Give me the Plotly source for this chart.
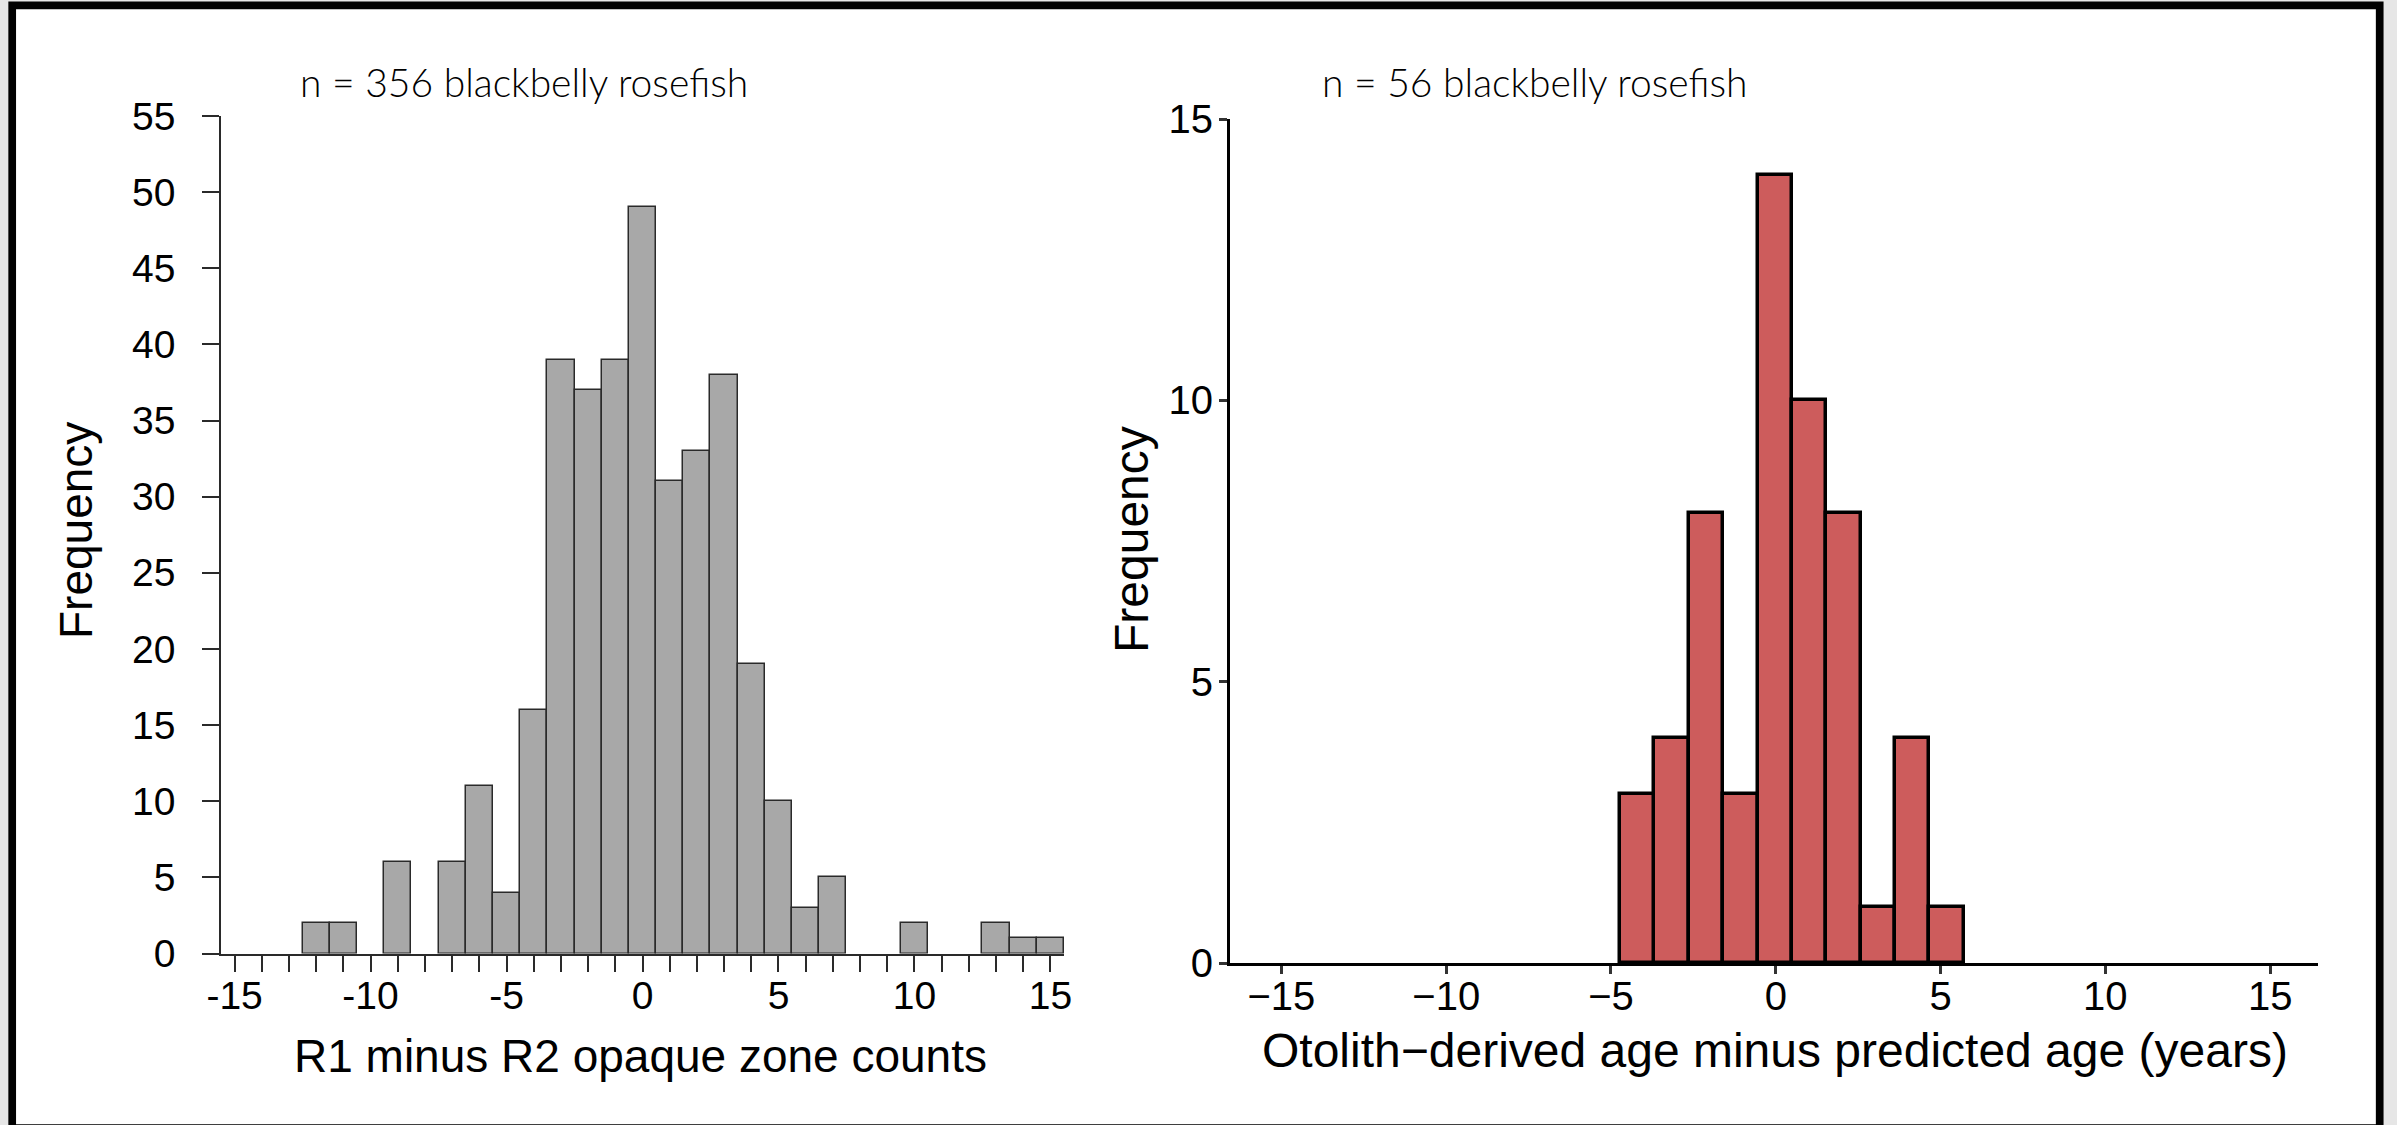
import plotly.graph_objects as go

W, H = 2397, 1125

# --- Left panel: R1 minus R2 opaque zone counts (integer bins) ---
left_bins = [-12, -11, -9, -7, -6, -5, -4, -3, -2, -1, 0, 1, 2, 3, 4, 5, 6, 7, 10, 13, 14, 15]
left_counts = [2, 2, 6, 6, 11, 4, 16, 39, 37, 39, 49, 31, 33, 38, 19, 10, 3, 5, 2, 2, 1, 1]
left_title = "n = 356 blackbelly rosefish"
left_xlabel = "R1 minus R2 opaque zone counts"
left_yticks = list(range(0, 60, 5))
left_xticks = list(range(-15, 16))
left_xticklabels = [str(v) if v % 5 == 0 else "" for v in left_xticks]

# --- Right panel: otolith-derived age minus predicted age ---
right_bins = [-4.20, -3.16, -2.12, -1.07, -0.03, 1.01, 2.05, 3.10, 4.14, 5.18]
right_counts = [3, 4, 8, 3, 14, 10, 8, 1, 4, 1]
right_bin_width = 1.042
right_title = "n = 56 blackbelly rosefish"
right_xlabel = "Otolith\u2212derived age minus predicted age (years)"
right_yticks = [0, 5, 10, 15]
right_xticks = [-15, -10, -5, 0, 5, 10, 15]
right_xticklabels = [("\u2212" + str(-v)) if v < 0 else str(v) for v in right_xticks]

ylabel = "Frequency"

ARIAL = "Liberation Sans, Arial, sans-serif"
TITLE_FONT = "Lato, Calibri, sans-serif"


def px_x(p):
    return p / W


def px_y(p):
    return 1 - p / H


fig = go.Figure()

fig.add_trace(go.Bar(
    x=left_bins, y=left_counts, width=1,
    marker=dict(color="#A8A8A8", line=dict(color="#2a2a2a", width=1.5)),
    xaxis="x", yaxis="y", showlegend=False, hoverinfo="x+y",
))

fig.add_trace(go.Bar(
    x=right_bins, y=right_counts, width=right_bin_width,
    marker=dict(color="#CD5C5C", line=dict(color="black", width=3.5)),
    xaxis="x2", yaxis="y2", showlegend=False, hoverinfo="x+y",
))

tick_font_left = dict(family=ARIAL, size=39, color="black")
tick_font_right = dict(family=ARIAL, size=40, color="black")

fig.update_layout(
    width=W, height=H,
    autosize=False,
    margin=dict(l=0, r=0, t=0, b=0, pad=0, autoexpand=False),
    paper_bgcolor="#e6e6e6",
    plot_bgcolor="rgba(0,0,0,0)",
    bargap=0,
    xaxis=dict(
        domain=[px_x(221), px_x(1064)], range=[-15.5, 15.5],
        tickmode="array", tickvals=left_xticks, ticktext=left_xticklabels,
        ticks="outside", ticklen=17, tickwidth=1.5, tickcolor="#2a2a2a",
        showline=True, linecolor="#2a2a2a", linewidth=1.5,
        showgrid=False, zeroline=False, tickfont=tick_font_left,
        ticklabelstandoff=-10, anchor="y", automargin=False,
    ),
    yaxis=dict(
        domain=[px_y(953.5), px_y(116)], range=[0, 55],
        tickmode="array", tickvals=left_yticks,
        ticks="outside", ticklen=17, tickwidth=1.5, tickcolor="#2a2a2a",
        showline=True, linecolor="#2a2a2a", linewidth=1.5,
        showgrid=False, zeroline=False, tickfont=tick_font_left,
        ticklabelstandoff=19, anchor="x", automargin=False,
    ),
    xaxis2=dict(
        domain=[px_x(1230), px_x(2317.6)], range=[-16.56, 16.44],
        tickmode="array", tickvals=right_xticks, ticktext=right_xticklabels,
        ticks="outside", ticklen=8, tickwidth=2.5, tickcolor="#333333",
        showline=True, linecolor="black", linewidth=3,
        showgrid=False, zeroline=False, tickfont=tick_font_right,
        ticklabelstandoff=-12, anchor="y2", automargin=False,
    ),
    yaxis2=dict(
        domain=[px_y(963), px_y(119)], range=[0, 15],
        tickmode="array", tickvals=right_yticks,
        ticks="outside", ticklen=8, tickwidth=2.5, tickcolor="#333333",
        showline=True, linecolor="black", linewidth=3,
        showgrid=False, zeroline=False, tickfont=tick_font_right,
        ticklabelstandoff=-2, anchor="x2", automargin=False,
    ),
    shapes=[
        # white page with heavy black frame
        dict(type="rect", xref="paper", yref="paper",
             x0=px_x(12.2), x1=px_x(2379.7), y0=px_y(1128), y1=px_y(5.4),
             fillcolor="white", line=dict(color="black", width=7.7), layer="below"),
    ],
    annotations=[
        dict(text=left_title, x=px_x(523.5), y=px_y(82), xref="paper", yref="paper",
             xanchor="center", yanchor="middle", showarrow=False,
             font=dict(family=TITLE_FONT, size=39, color="black", weight=300)),
        dict(text=right_title, x=px_x(1535), y=px_y(82), xref="paper", yref="paper",
             xanchor="center", yanchor="middle", showarrow=False,
             font=dict(family=TITLE_FONT, size=39, color="black", weight=300)),
        dict(text=left_xlabel, x=px_x(640), y=px_y(1056), xref="paper", yref="paper",
             xanchor="center", yanchor="middle", showarrow=False,
             font=dict(family=ARIAL, size=46, color="black")),
        dict(text=right_xlabel, x=px_x(1775), y=px_y(1050), xref="paper", yref="paper",
             xanchor="center", yanchor="middle", showarrow=False,
             font=dict(family=ARIAL, size=48, color="black")),
        dict(text=ylabel, x=px_x(76), y=px_y(531), xref="paper", yref="paper",
             xanchor="center", yanchor="middle", showarrow=False, textangle=-90,
             font=dict(family=ARIAL, size=46, color="black")),
        dict(text=ylabel, x=px_x(1131), y=px_y(540), xref="paper", yref="paper",
             xanchor="center", yanchor="middle", showarrow=False, textangle=-90,
             font=dict(family=ARIAL, size=48, color="black")),
    ],
)

# keep the page itself flush with the figure
page_css = (
    "document.body.style.margin='0';"
    "document.body.style.padding='0';"
    "document.body.style.overflow='hidden';"
    "document.documentElement.style.overflow='hidden';"
)

fig.write_html("out.html", config={"responsive": False}, post_script=page_css)
